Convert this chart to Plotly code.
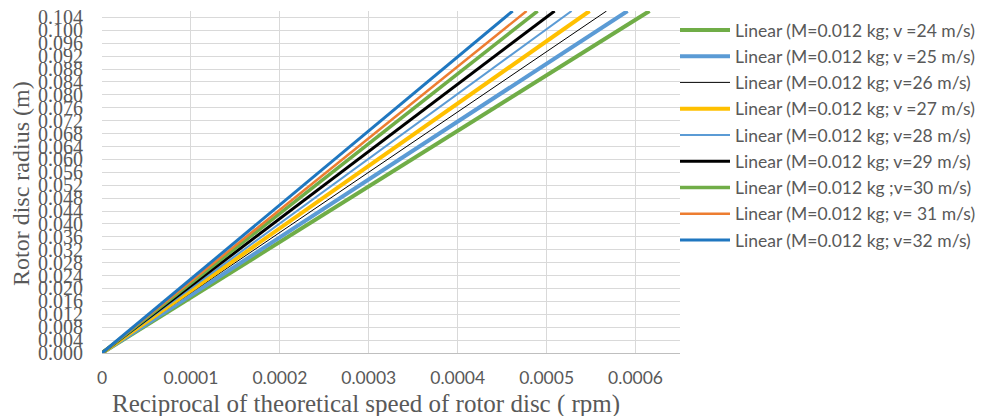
import plotly.graph_objects as go

# Data (trendlines through the origin)
speeds = [24, 25, 26, 27, 28, 29, 30, 31, 32]
names = [
    "Linear (M=0.012 kg; v =24 m/s)",
    "Linear (M=0.012 kg; v =25 m/s)",
    "Linear (M=0.012 kg; v=26 m/s)",
    "Linear (M=0.012 kg; v =27 m/s)",
    "Linear (M=0.012 kg; v=28 m/s)",
    "Linear (M=0.012 kg; v=29 m/s)",
    "Linear (M=0.012 kg ;v=30 m/s)",
    "Linear (M=0.012 kg; v= 31 m/s)",
    "Linear (M=0.012 kg; v=32 m/s)",
]
# reciprocal speed where each line reaches radius 0.106 m
x_end = [0.0006157, 0.0005910, 0.0005674, 0.0005483, 0.0005281,
         0.0005090, 0.0004899, 0.0004775, 0.0004618]
r_start = 0.0
r_end = 0.106
x_start = 0.0

colors = ["#70AD47", "#5B9BD5", "#000000", "#FFC000", "#5B9BD5",
          "#000000", "#70AD47", "#ED7D31", "#1F77C0"]
widths = [4, 4, 1, 4, 2, 3, 3.5, 2.5, 3]

x_tickvals = [0, 0.0001, 0.0002, 0.0003, 0.0004, 0.0005, 0.0006]
x_ticktext = ["0", "0.0001", "0.0002", "0.0003", "0.0004", "0.0005", "0.0006"]

fig = go.Figure()
for i, name in enumerate(names):
    fig.add_trace(go.Scatter(
        x=[x_start, x_end[i]], y=[r_start, r_end],
        mode="lines", name=name, legendgroup=str(i),
        line=dict(color=colors[i], width=widths[i]),
    ))

# the page body has an 8px margin, so figure pixel = screen pixel - 8
OFF = 8
W, H = 987 - OFF, 416 - OFF
L, T = 102 - OFF, 11 - OFF
PR, PB = 680 - OFF, 353 - OFF
R, B = W - PR, H - PB
PW = PR - L
PH = PB - T


def px(x):
    return (x - OFF - L) / PW


def py(y):
    return (PB - (y - OFF)) / PH


fig.update_layout(
    width=W, height=H,
    margin=dict(l=L, r=R, t=T, b=B, autoexpand=False),
    paper_bgcolor="white", plot_bgcolor="white",
    showlegend=True,
    legend=dict(
        x=px(675), xanchor="left", y=py(12), yanchor="top",
        font=dict(family="Lato, Carlito, sans-serif", size=17.5, color="#595959"),
        tracegroupgap=0.5, bgcolor="rgba(0,0,0,0)", itemwidth=50,
    ),
    xaxis=dict(
        range=[0, 0.00065], tickvals=x_tickvals, ticktext=x_ticktext,
        showgrid=True, gridcolor="#D9D9D9", gridwidth=1,
        showline=True, linecolor="#BFBFBF", linewidth=1,
        zeroline=False, ticks="outside", ticklen=9, tickcolor="rgba(0,0,0,0)",
        automargin=False, ticklabeloverflow="allow",
        tickfont=dict(family="Lato, Carlito, sans-serif", size=17.5, color="#595959"),
    ),
    yaxis=dict(
        range=[0, 0.106], dtick=0.004, tick0=0, tickformat=".3f",
        showgrid=True, gridcolor="#D9D9D9", gridwidth=1,
        showline=False, zeroline=False, ticks="outside", ticklen=14,
        tickcolor="rgba(0,0,0,0)", automargin=False, ticklabeloverflow="allow",
        tickfont=dict(family="Liberation Serif, Times New Roman, serif", size=20, color="#595959"),
    ),
    annotations=[
        dict(text="Reciprocal of theoretical speed of rotor disc ( rpm)",
             xref="paper", yref="paper", x=px(366), y=py(404),
             xanchor="center", yanchor="middle", showarrow=False,
             font=dict(family="Liberation Serif, Times New Roman, serif", size=25, color="#595959")),
        dict(text="Rotor disc radius (m)",
             xref="paper", yref="paper", x=px(21), y=py(184),
             xanchor="center", yanchor="middle", showarrow=False, textangle=-90,
             font=dict(family="Liberation Serif, Times New Roman, serif", size=24, color="#595959")),
    ],
)

fig.write_html("out.html")
